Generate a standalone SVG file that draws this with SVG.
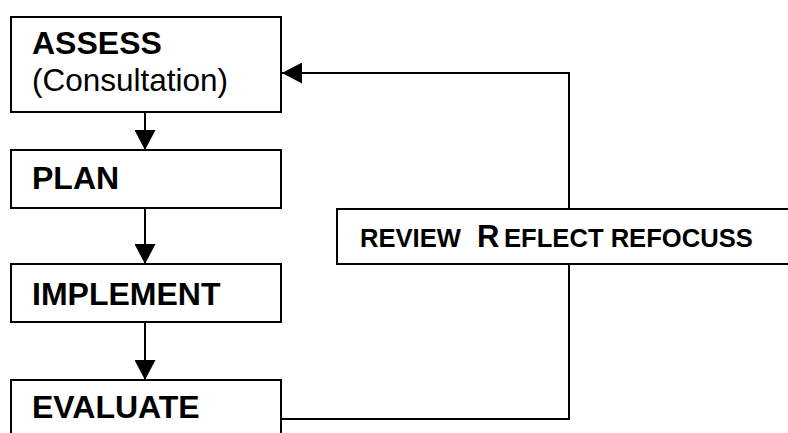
<svg xmlns="http://www.w3.org/2000/svg" width="788" height="433" viewBox="0 0 788 433">
<style>
.box{fill:#fff;stroke:#000;stroke-width:2}
.lbl{font-family:"Liberation Sans",Arial,sans-serif;font-weight:bold;font-size:32px;fill:#000}
.sub{font-family:"Liberation Sans",Arial,sans-serif;font-size:31.5px;fill:#000}
.rv{font-family:"Liberation Sans",Arial,sans-serif;font-weight:bold;font-size:25.6px;fill:#000}
.conn{fill:none;stroke:#000;stroke-width:2}
</style>
<defs>
<marker id="ah" viewBox="0 0 20 21" refX="20" refY="10.5" markerWidth="20" markerHeight="21" markerUnits="userSpaceOnUse" orient="auto">
<path d="M0,0 L20,10.5 L0,21 Z" fill="#000"/>
</marker>
</defs>
<rect width="788" height="433" fill="#fff"/>
<g id="connectors">
<line class="conn" x1="145" y1="112" x2="145" y2="150" marker-end="url(#ah)"/>
<line class="conn" x1="145" y1="208" x2="145" y2="264" marker-end="url(#ah)"/>
<line class="conn" x1="145" y1="322" x2="145" y2="380" marker-end="url(#ah)"/>
<polyline class="conn" points="282,419 569,419 569,264"/>
<polyline class="conn" points="569,209 569,73 282,73" marker-end="url(#ah)"/>
</g>
<g id="assess">
<rect class="box" x="11" y="17" width="270" height="95"/>
<text class="lbl" x="32" y="54">ASSESS</text>
<text class="sub" x="32" y="91">(Consultation)</text>
</g>
<g id="plan">
<rect class="box" x="11" y="150" width="270" height="58"/>
<text class="lbl" x="32" y="189">PLAN</text>
</g>
<g id="implement">
<rect class="box" x="11" y="264" width="270" height="58"/>
<text class="lbl" x="32" y="305">IMPLEMENT</text>
</g>
<g id="evaluate">
<rect class="box" x="11" y="380" width="270" height="70"/>
<text class="lbl" x="32" y="418">EVALUATE</text>
</g>
<g id="review">
<rect class="box" x="337" y="209" width="470" height="55"/>
<text class="rv" y="247"><tspan x="360">REVIEW</tspan><tspan x="477" font-size="31">R</tspan><tspan x="504">EFLECT REFOCUSS</tspan></text>
</g>
</svg>
